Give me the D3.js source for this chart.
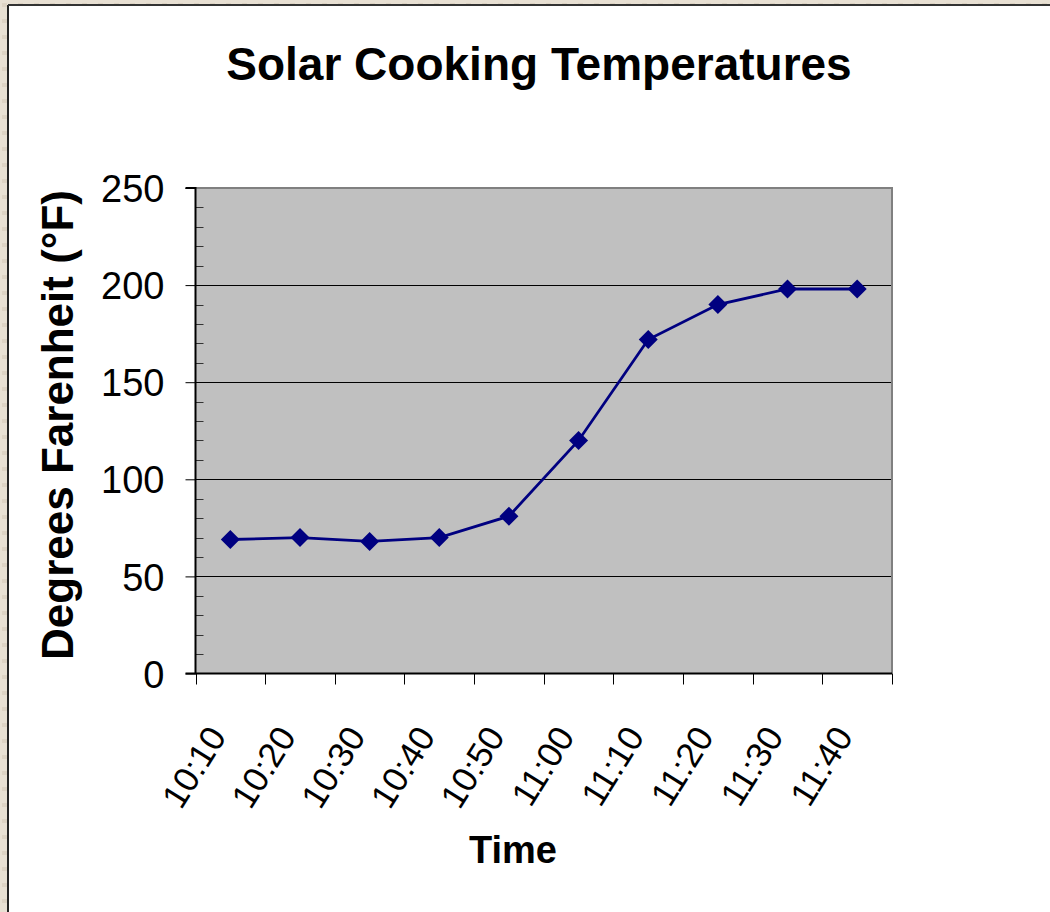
<!DOCTYPE html>
<html><head><meta charset="utf-8">
<script src="https://cdn.jsdelivr.net/npm/d3@7"></script>
<style>body{margin:0;background:#e7dfd2;}svg{display:block;}</style>
</head><body>
<svg id="c" width="1050" height="912"></svg>
<script>
const categories = ["10:10","10:20","10:30","10:40","10:50","11:00","11:10","11:20","11:30","11:40"];
const temps = [69, 70, 68, 70, 81, 120, 172, 190, 198, 198];
const yTicks = [0, 50, 100, 150, 200, 250];
const title = "Solar Cooking Temperatures";
const xTitle = "Time";
const yTitle = "Degrees Farenheit (°F)";

const FONT = "Arial, 'Liberation Sans', sans-serif";
const svg = d3.select("#c");
const W = 1050, H = 912;
// paper texture approximation
const defs = svg.append("defs");
const pat = defs.append("pattern").attr("id","tex").attr("width",16).attr("height",16).attr("patternUnits","userSpaceOnUse");
pat.append("rect").attr("width",16).attr("height",16).attr("fill","#e8e0d3");
pat.append("rect").attr("x",2).attr("y",3).attr("width",5).attr("height",4).attr("fill","#ddd3c4");
pat.append("rect").attr("x",10).attr("y",10).attr("width",4).attr("height",5).attr("fill","#efe9de");
svg.append("rect").attr("width",W).attr("height",H).attr("fill","url(#tex)");
// white panel
svg.append("rect").attr("x",8).attr("y",5).attr("width",W).attr("height",H).attr("fill","#fff");
svg.append("line").attr("x1",8).attr("x2",8).attr("y1",5).attr("y2",H).attr("stroke","#222").attr("stroke-width",2);
svg.append("line").attr("x1",8).attr("x2",W).attr("y1",5).attr("y2",5).attr("stroke","#333").attr("stroke-width",2);

const L = 195.5, R = 892, T = 188, B = 673.5;
const x = d3.scaleBand().domain(categories).range([L, R]);
const y = d3.scaleLinear().domain([0, 250]).range([B, T]);

// plot area
svg.append("rect").attr("x",L).attr("y",T).attr("width",R-L).attr("height",B-T).attr("fill","#c0c0c0");
// gridlines
svg.append("g").selectAll("line").data(yTicks.filter(d=>d>0 && d<250)).join("line")
  .attr("x1",L).attr("x2",R).attr("y1",d=>Math.round(y(d))+0.5).attr("y2",d=>Math.round(y(d))+0.5)
  .attr("stroke","#000").attr("stroke-width",1);
// plot border top/right
svg.append("path").attr("d",`M${L},${T} H${R} V${B}`).attr("fill","none").attr("stroke","#808080").attr("stroke-width",2);

// minor ticks (inside)
const minor = d3.range(10, 250, 10).filter(v => v % 50 !== 0);
svg.append("g").selectAll("line").data(minor).join("line")
  .attr("x1",L).attr("x2",L+8).attr("y1",d=>Math.round(y(d))+0.5).attr("y2",d=>Math.round(y(d))+0.5)
  .attr("stroke","#333").attr("stroke-width",1);

// y axis
const yAxis = d3.axisLeft(y).tickValues(yTicks).tickSize(10).tickPadding(21).tickFormat(d3.format("d"));
const gy = svg.append("g").attr("transform",`translate(${L},0)`).call(yAxis);
gy.select(".domain").attr("stroke","#000").attr("stroke-width",2).attr("d",`M-10,${T}H0V${B}H-10`);
gy.selectAll(".tick line").attr("stroke","#000").attr("stroke-width",1);
gy.selectAll(".tick text").attr("font-family",FONT).attr("font-size",38).attr("fill","#000").attr("dy","0.36em");

// x axis
const gx = svg.append("g").attr("transform",`translate(0,${B})`);
gx.append("line").attr("x1",L).attr("x2",R).attr("y1",0).attr("y2",0).attr("stroke","#000").attr("stroke-width",2);
const bounds = categories.map(c => x(c)).concat([R]);
gx.selectAll("line.t").data(bounds).join("line").attr("class","t")
  .attr("x1",d=>Math.round(d)+0.5).attr("x2",d=>Math.round(d)+0.5).attr("y1",0).attr("y2",11)
  .attr("stroke","#000").attr("stroke-width",1);
gx.selectAll("text").data(categories).join("text")
  .attr("transform",d=>`translate(${x(d)+x.bandwidth()/2-3},${63}) rotate(-58)`)
  .attr("text-anchor","end")
  .attr("font-family",FONT).attr("font-size",35).attr("fill","#000")
  .text(d=>d);

// line + markers
const line = d3.line().x((d,i)=>x(categories[i])+x.bandwidth()/2).y(d=>y(d));
svg.append("path").datum(temps).attr("d",line).attr("fill","none").attr("stroke","#000080").attr("stroke-width",2.8);
svg.append("g").selectAll("path").data(temps).join("path")
  .attr("transform",(d,i)=>`translate(${x(categories[i])+x.bandwidth()/2},${y(d)})`)
  .attr("d","M0,-9.5L9.5,0L0,9.5L-9.5,0Z").attr("fill","#000080");

// titles
svg.append("text").attr("x",539).attr("y",80).attr("text-anchor","middle")
  .attr("font-family",FONT).attr("font-weight","bold").attr("font-size",46).text(title);
svg.append("text").attr("x",513).attr("y",863).attr("text-anchor","middle")
  .attr("font-family",FONT).attr("font-weight","bold").attr("font-size",38).text(xTitle);
svg.append("text").attr("transform","translate(73,425) rotate(-90)").attr("text-anchor","middle")
  .attr("font-family",FONT).attr("font-weight","bold").attr("font-size",44).text(yTitle);
</script>
</body></html>
